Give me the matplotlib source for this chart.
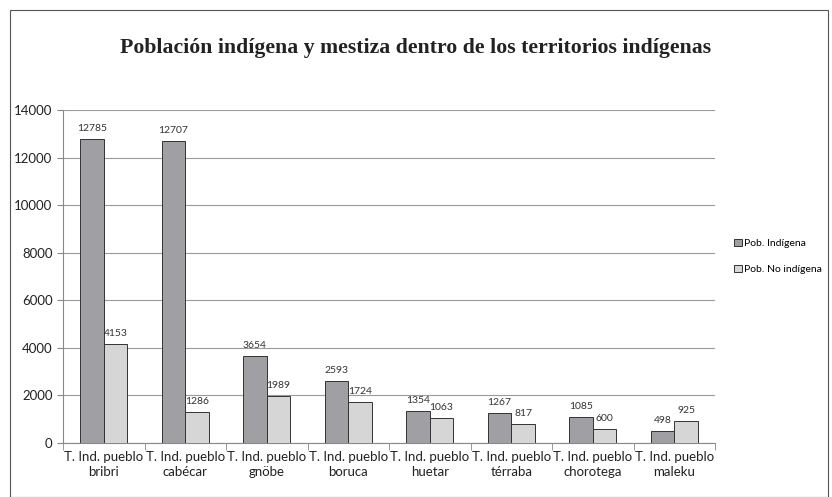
import matplotlib
matplotlib.use("Agg")
import matplotlib.pyplot as plt
import numpy as np
from matplotlib.patches import Rectangle

categories = ["T. Ind. pueblo\nbribri", "T. Ind. pueblo\ncabécar", "T. Ind. pueblo\ngnöbe",
              "T. Ind. pueblo\nboruca", "T. Ind. pueblo\nhuetar", "T. Ind. pueblo\ntérraba",
              "T. Ind. pueblo\nchorotega", "T. Ind. pueblo\nmaleku"]
indigena = [12785, 12707, 3654, 2593, 1354, 1267, 1085, 498]
no_indigena = [4153, 1286, 1989, 1724, 1063, 817, 600, 925]
series_names = ["Pob. Indígena", "Pob. No indígena"]
title = "Población indígena y mestiza dentro de los territorios indígenas"

FONT = ["Lato", "DejaVu Sans"]

fig = plt.figure(figsize=(8.32, 4.97), dpi=100)
fig.patches.append(Rectangle((10/832, 0), (828-10)/832, 1 - 10/497, transform=fig.transFigure,
                             fill=False, edgecolor="#555555", linewidth=0.8))
ax = fig.add_axes([63/832, 1 - 443/497, (715-63)/832, (443-110)/497])

x = np.arange(len(categories))
w = 0.29
b1 = ax.bar(x - w/2, indigena, w, color="#a0a0a4", edgecolor="#333333", linewidth=0.7,
            label=series_names[0], zorder=3)
b2 = ax.bar(x + w/2, no_indigena, w, color="#d6d6d6", edgecolor="#333333", linewidth=0.7,
            label=series_names[1], zorder=3)
for bars in (b1, b2):
    for r in bars:
        h = r.get_height()
        ax.text(r.get_x() + r.get_width()/2, h + 250, f"{int(h)}", ha="center", va="bottom",
                fontsize=7.5, color="#333333", family=FONT)

ax.set_xlim(-0.5, len(categories) - 0.5)
ax.set_ylim(0, 14000)
ax.set_yticks(np.arange(0, 14001, 2000))
ax.yaxis.grid(True, color="#9a9a9a", linewidth=0.8, zorder=0)
ax.set_axisbelow(True)
for s in ["top", "right"]:
    ax.spines[s].set_visible(False)
ax.spines["left"].set_color("#888888")
ax.spines["bottom"].set_color("#888888")
ax.tick_params(axis="y", length=4, color="#888888", labelsize=9.5, labelcolor="#222222")
for t in ax.get_yticklabels():
    t.set_family(FONT)
ax.set_xticks(x)
ax.set_xticklabels(categories, fontsize=9.5, color="#222222", family=FONT, linespacing=1.3)
ax.tick_params(axis="x", length=0, pad=6)
ax.set_xticks(np.arange(-0.5, len(categories), 1), minor=True)
ax.tick_params(axis="x", which="minor", length=5, color="#888888")

fig.text(416/832, 1 - 48/497, title, ha="center", va="center", fontsize=15.7,
         fontweight="bold", family="Liberation Serif", color="#222222")

ax.legend(loc="center left", bbox_to_anchor=(1.02, 0.56), frameon=False,
          prop={"family": FONT, "size": 7.5},
          handlelength=0.7, handleheight=0.7, handletextpad=0.25, labelspacing=1.6,
          borderaxespad=0.2)

fig.savefig("out.png", dpi=100)
